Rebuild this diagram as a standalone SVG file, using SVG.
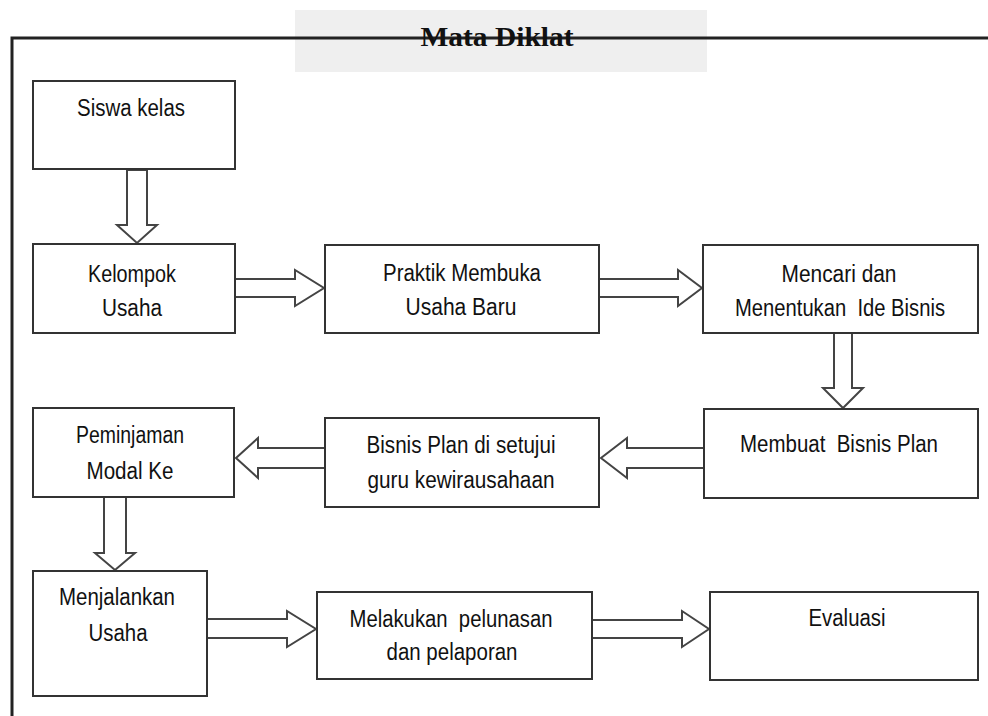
<svg xmlns="http://www.w3.org/2000/svg" width="988" height="716" viewBox="0 0 988 716">
<style>
.box{fill:#fff;stroke:#333;stroke-width:2}
.arr{fill:#fff;stroke:#444;stroke-width:2;stroke-linejoin:miter}
.t{font-family:"Liberation Sans",Arial,sans-serif;font-size:23px;fill:#111;text-anchor:middle;white-space:pre}
.title{font-family:"Liberation Serif","Times New Roman",serif;font-weight:bold;font-size:27px;fill:#111;text-anchor:middle}
</style>
<rect width="988" height="716" fill="#fff"/>
<g id="frame">
<rect x="295" y="10" width="412" height="62" fill="#efefef"/>
<path d="M12,716 V38 H988" fill="none" stroke="#222" stroke-width="3"/>
<text class="title" x="497" y="46" textLength="153" lengthAdjust="spacingAndGlyphs">Mata Diklat</text>
</g>
<g id="connectors">
<polygon class="arr" points="127,170 147,170 147,225 157,225 137,243 117,225 127,225"/>
<polygon class="arr" points="235,279 295,279 295,270 324,288 295,306 295,297 235,297"/>
<polygon class="arr" points="599,279 678,279 678,270 702,288 678,306 678,297 599,297"/>
<polygon class="arr" points="834,333 852,333 852,388 863,388 843,408 823,388 834,388"/>
<polygon class="arr" points="704,448 627,448 627,438 601,458 627,478 627,468 704,468"/>
<polygon class="arr" points="325,448 258,448 258,438 236,458 258,478 258,468 325,468"/>
<polygon class="arr" points="104,497 126,497 126,553 135,553 115,570 95,553 104,553"/>
<polygon class="arr" points="207,619 287,619 287,611 316,629 287,647 287,638 207,638"/>
<polygon class="arr" points="592,620 682,620 682,611 709,629 682,647 682,638 592,638"/>
</g>
<g id="n1"><rect class="box" x="33" y="81" width="202" height="88"/>
<text class="t" x="131" y="116" textLength="108" lengthAdjust="spacingAndGlyphs">Siswa kelas</text></g>
<g id="n2"><rect class="box" x="33" y="244" width="202" height="89"/>
<text class="t" x="132" y="282" textLength="88" lengthAdjust="spacingAndGlyphs">Kelompok</text>
<text class="t" x="132" y="316" textLength="60" lengthAdjust="spacingAndGlyphs">Usaha</text></g>
<g id="n3"><rect class="box" x="325" y="245" width="274" height="88"/>
<text class="t" x="462" y="281" textLength="158" lengthAdjust="spacingAndGlyphs">Praktik Membuka</text>
<text class="t" x="461" y="315" textLength="111" lengthAdjust="spacingAndGlyphs">Usaha Baru</text></g>
<g id="n4"><rect class="box" x="703" y="245" width="275" height="88"/>
<text class="t" x="839" y="282" textLength="115" lengthAdjust="spacingAndGlyphs">Mencari dan</text>
<text class="t" x="840" y="316" textLength="210" lengthAdjust="spacingAndGlyphs">Menentukan  Ide Bisnis</text></g>
<g id="n5"><rect class="box" x="704" y="409" width="274" height="89"/>
<text class="t" x="839" y="452" textLength="198" lengthAdjust="spacingAndGlyphs">Membuat  Bisnis Plan</text></g>
<g id="n6"><rect class="box" x="33" y="408" width="201" height="89"/>
<text class="t" x="130" y="443" textLength="108" lengthAdjust="spacingAndGlyphs">Peminjaman</text>
<text class="t" x="130" y="479" textLength="87" lengthAdjust="spacingAndGlyphs">Modal Ke</text></g>
<g id="n7"><rect class="box" x="325" y="418" width="274" height="89"/>
<text class="t" x="461" y="453" textLength="189" lengthAdjust="spacingAndGlyphs">Bisnis Plan di setujui</text>
<text class="t" x="461" y="488" textLength="187" lengthAdjust="spacingAndGlyphs">guru kewirausahaan</text></g>
<g id="n8"><rect class="box" x="33" y="571" width="174" height="125"/>
<text class="t" x="117" y="605" textLength="116" lengthAdjust="spacingAndGlyphs">Menjalankan</text>
<text class="t" x="118" y="641" textLength="59" lengthAdjust="spacingAndGlyphs">Usaha</text></g>
<g id="n9"><rect class="box" x="317" y="592" width="275" height="87"/>
<text class="t" x="451" y="627" textLength="203" lengthAdjust="spacingAndGlyphs">Melakukan  pelunasan</text>
<text class="t" x="452" y="660" textLength="131" lengthAdjust="spacingAndGlyphs">dan pelaporan</text></g>
<g id="n10"><rect class="box" x="710" y="592" width="268" height="88"/>
<text class="t" x="847" y="626" textLength="77" lengthAdjust="spacingAndGlyphs">Evaluasi</text></g>
</svg>
